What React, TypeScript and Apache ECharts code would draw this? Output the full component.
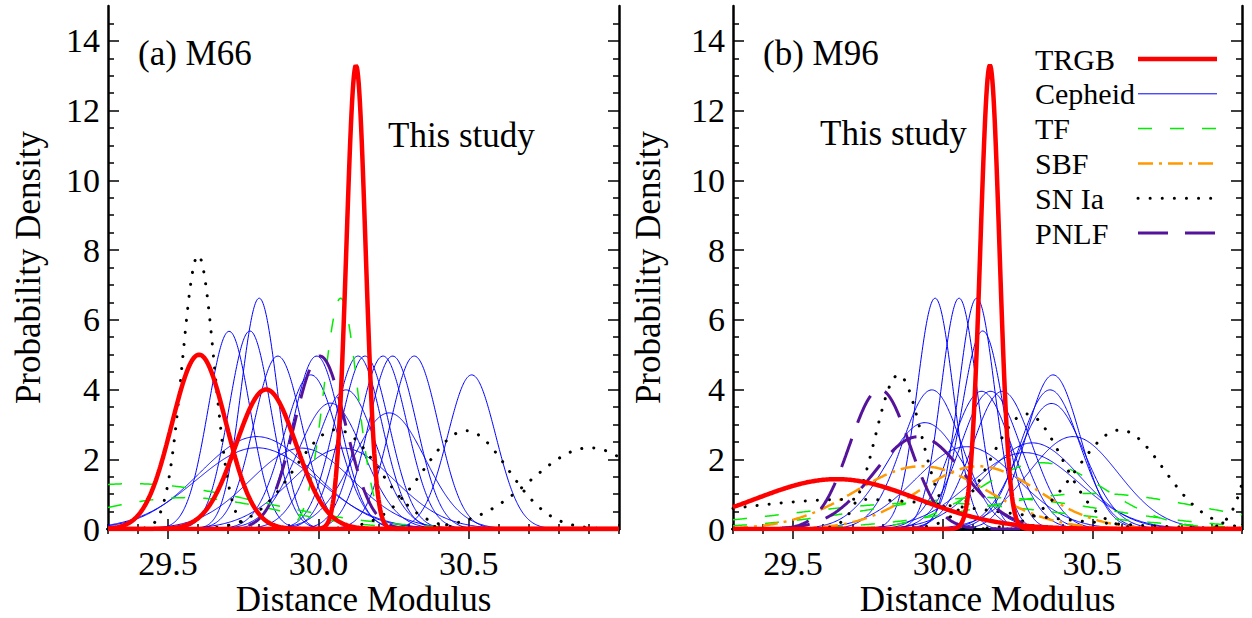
import React, { useEffect, useRef } from "react";
import * as echarts from "echarts";

// ---------- data ----------
// Each distribution: mean distance modulus, sigma, peak probability density.
const X_TICK_LABELS = [29.5, 30.0, 30.5];
const Y_TICK_LABELS = [0, 2, 4, 6, 8, 10, 12, 14];

// Panel (a) M66
const M66_TRGB_MU = [29.603, 29.826, 30.125];
const M66_TRGB_SIGMA = [0.09, 0.1, 0.032];
const M66_TRGB_PEAK = [5.0, 4.0, 13.3];

const M66_CEP_MU = [29.703, 29.772, 29.803, 29.865, 29.994, 29.975, 30.04, 30.132, 30.155, 30.215, 30.247, 30.319, 30.51, 30.092, 30.235, 30.082, 29.795, 29.795, 29.944];
const M66_CEP_SIGMA = [0.07, 0.07, 0.06, 0.08, 0.08, 0.09, 0.11, 0.08, 0.08, 0.08, 0.08, 0.08, 0.08, 0.1, 0.12, 0.17, 0.19, 0.2, 0.17];
const M66_CEP_PEAK = [5.67, 5.68, 6.62, 4.96, 4.96, 4.42, 3.61, 4.96, 4.96, 4.96, 4.96, 4.96, 4.42, 3.99, 3.33, 2.32, 2.65, 2.33, 2.32];

const M66_TF_MU = [29.38, 29.56, 30.074];
const M66_TF_SIGMA = [0.42, 0.3, 0.056];
const M66_TF_PEAK = [1.3, 0.9, 6.62];

const M66_SN_MU = [29.6, 30.06, 30.491, 30.903];
const M66_SN_SIGMA = [0.053, 0.14, 0.14, 0.195];
const M66_SN_PEAK = [7.85, 2.85, 2.82, 2.33];

const M66_PN_MU = [30.005];
const M66_PN_SIGMA = [0.085];
const M66_PN_PEAK = [4.96];

// Panel (b) M96
const M96_TRGB_MU = [29.646, 30.158];
const M96_TRGB_SIGMA = [0.27, 0.032];
const M96_TRGB_PEAK = [1.43, 13.3];

const M96_CEP_MU = [29.975, 30.055, 30.114, 30.134, 29.964, 29.941, 30.13, 30.16, 30.2, 30.369, 30.359, 30.364, 30.436, 30.3, 30.08, 30.275];
const M96_CEP_SIGMA = [0.06, 0.06, 0.06, 0.07, 0.1, 0.13, 0.1, 0.1, 0.1, 0.09, 0.1, 0.11, 0.15, 0.16, 0.17, 0.18];
const M96_CEP_PEAK = [6.62, 6.62, 6.62, 5.68, 3.99, 3.05, 3.95, 3.95, 3.95, 4.42, 3.99, 3.6, 2.65, 2.47, 2.36, 2.19];

const M96_TF_MU = [30.33, 30.5, 30.15, 29.95];
const M96_TF_SIGMA = [0.21, 0.37, 0.4, 0.45];
const M96_TF_PEAK = [1.9, 1.02, 0.9, 0.75];

const M96_SBF_MU = [29.93, 30.12];
const M96_SBF_SIGMA = [0.22, 0.2];
const M96_SBF_PEAK = [1.8, 1.8];

const M96_SN_MU = [29.7, 29.853, 30.28, 30.593, 31.12];
const M96_SN_SIGMA = [0.47, 0.077, 0.12, 0.145, 0.07];
const M96_SN_PEAK = [0.85, 4.42, 3.3, 2.84, 5.7];

const M96_PN_MU = [29.79, 29.92];
const M96_PN_SIGMA = [0.1, 0.15];
const M96_PN_PEAK = [4.0, 2.65];

// ---------- styles ----------
const FONT = "'Liberation Serif', 'Times New Roman', Times, serif";
const STYLES: Record<string, any> = {
  TRGB: { color: "#ff0000", width: 4.5, type: "solid" },
  Cepheid: { color: "#0000ff", width: 1, type: "solid" },
  TF: { color: "#00ee00", width: 1.5, type: [14, 18] },
  SBF: { color: "#ff9900", width: 2.5, type: [15, 6, 3, 6] },
  "SN Ia": { color: "#000000", width: 3, type: [0.1, 12], cap: "round" },
  PNLF: { color: "#55129a", width: 3, type: [30, 17] },
};
const LEGEND_ORDER = ["TRGB", "Cepheid", "TF", "SBF", "SN Ia", "PNLF"];

const XMIN = 29.3;
const XMAX = 31.0;
const YMIN = 0;
const YMAX = 15;

const XS: number[] = [];
for (let i = 0; i <= 850; i++) XS.push(XMIN + (i * (XMAX - XMIN)) / 850);

function gaussSeries(name: string, mus: number[], sigmas: number[], peaks: number[], axisIdx: number) {
  const st = STYLES[name];
  return mus.map((mu, k) => ({
    type: "line",
    name,
    xAxisIndex: axisIdx,
    yAxisIndex: axisIdx,
    showSymbol: false,
    symbol: "none",
    silent: true,
    clip: true,
    lineStyle: { color: st.color, width: st.width, type: st.type, cap: st.cap || "butt" },
    data: XS.map((x) => [x, peaks[k] * Math.exp(-((x - mu) * (x - mu)) / (2 * sigmas[k] * sigmas[k]))]),
  }));
}

function range(a: number, b: number, step: number) {
  const out: number[] = [];
  for (let v = a; v <= b + 1e-9; v += step) out.push(Math.round(v * 100) / 100);
  return out;
}

const X_MINOR = range(29.3, 31.0, 0.1).filter((v) => !X_TICK_LABELS.some((m) => Math.abs(m - v) < 1e-6));
const Y_MAJOR = range(0, 14, 2);
const Y_MINOR = range(0.5, 14.5, 0.5).filter((v) => Math.abs(v % 2) > 1e-6);

const AXIS_COLOR = "#000";
const AXIS_W = 2.5;
const TICK_FONT = 34;
const TITLE_FONT = 35;

function xAxes(grid: number) {
  const base = { type: "value", gridIndex: grid, min: XMIN, max: XMAX, splitLine: { show: false } };
  return [
    {
      ...base,
      position: "bottom",
      axisLine: { show: true, lineStyle: { color: AXIS_COLOR, width: AXIS_W } },
      axisTick: { show: true, inside: true, length: 10, customValues: X_TICK_LABELS, lineStyle: { color: AXIS_COLOR, width: 1.5 } },
      axisLabel: {
        show: true,
        customValues: X_TICK_LABELS,
        formatter: (v: number) => v.toFixed(1),
        fontFamily: FONT,
        fontSize: TICK_FONT,
        lineHeight: 32,
        color: "#000",
        margin: 18,
      },
    },
    {
      ...base,
      position: "bottom",
      axisLine: { show: false },
      axisTick: { show: true, inside: true, length: 5, customValues: X_MINOR, lineStyle: { color: AXIS_COLOR, width: 1.5 } },
      axisLabel: { show: false },
    },
    {
      ...base,
      position: "top",
      axisLine: { show: true, lineStyle: { color: AXIS_COLOR, width: AXIS_W } },
      axisTick: { show: true, inside: true, length: 10, customValues: X_TICK_LABELS, lineStyle: { color: AXIS_COLOR, width: 1.5 } },
      axisLabel: { show: false },
    },
    {
      ...base,
      position: "top",
      axisLine: { show: false },
      axisTick: { show: true, inside: true, length: 5, customValues: X_MINOR, lineStyle: { color: AXIS_COLOR, width: 1.5 } },
      axisLabel: { show: false },
    },
  ];
}

function yAxes(grid: number) {
  const base = { type: "value", gridIndex: grid, min: YMIN, max: YMAX, splitLine: { show: false } };
  return [
    {
      ...base,
      position: "left",
      axisLine: { show: true, lineStyle: { color: AXIS_COLOR, width: AXIS_W } },
      axisTick: { show: true, inside: true, length: 11, customValues: Y_MAJOR, lineStyle: { color: AXIS_COLOR, width: 1.5 } },
      axisLabel: {
        show: true,
        customValues: Y_TICK_LABELS,
        formatter: (v: number) => String(Math.round(v)),
        fontFamily: FONT,
        fontSize: TICK_FONT,
        color: "#000",
        margin: 8,
      },
    },
    {
      ...base,
      position: "left",
      axisLine: { show: false },
      axisTick: { show: true, inside: true, length: 6, customValues: Y_MINOR, lineStyle: { color: AXIS_COLOR, width: 1.5 } },
      axisLabel: { show: false },
    },
    {
      ...base,
      position: "right",
      axisLine: { show: true, lineStyle: { color: AXIS_COLOR, width: AXIS_W } },
      axisTick: { show: true, inside: true, length: 11, customValues: Y_MAJOR, lineStyle: { color: AXIS_COLOR, width: 1.5 } },
      axisLabel: { show: false },
    },
    {
      ...base,
      position: "right",
      axisLine: { show: false },
      axisTick: { show: true, inside: true, length: 6, customValues: Y_MINOR, lineStyle: { color: AXIS_COLOR, width: 1.5 } },
      axisLabel: { show: false },
    },
  ];
}

const GRIDS = [
  { left: 108, top: 6, width: 511, height: 523 },
  { left: 733, top: 6, width: 509, height: 523 },
];

function text(t: string, x: number, y: number, extra: any = {}) {
  return {
    type: "text",
    x,
    y,
    silent: true,
    ...extra,
    style: {
      text: t,
      fontFamily: FONT,
      fontSize: TITLE_FONT,
      fill: "#000",
      textVerticalAlign: "middle",
      ...(extra.style || {}),
    },
  };
}

function buildOption() {
  const series: any[] = [];
  // panel a (axes index 0)
  series.push(...gaussSeries("Cepheid", M66_CEP_MU, M66_CEP_SIGMA, M66_CEP_PEAK, 0));
  series.push(...gaussSeries("TF", M66_TF_MU, M66_TF_SIGMA, M66_TF_PEAK, 0));
  series.push(...gaussSeries("SN Ia", M66_SN_MU, M66_SN_SIGMA, M66_SN_PEAK, 0));
  series.push(...gaussSeries("PNLF", M66_PN_MU, M66_PN_SIGMA, M66_PN_PEAK, 0));
  series.push(...gaussSeries("TRGB", M66_TRGB_MU, M66_TRGB_SIGMA, M66_TRGB_PEAK, 0));
  // panel b (axes index 4)
  series.push(...gaussSeries("Cepheid", M96_CEP_MU, M96_CEP_SIGMA, M96_CEP_PEAK, 4));
  series.push(...gaussSeries("TF", M96_TF_MU, M96_TF_SIGMA, M96_TF_PEAK, 4));
  series.push(...gaussSeries("SBF", M96_SBF_MU, M96_SBF_SIGMA, M96_SBF_PEAK, 4));
  series.push(...gaussSeries("SN Ia", M96_SN_MU, M96_SN_SIGMA, M96_SN_PEAK, 4));
  series.push(...gaussSeries("PNLF", M96_PN_MU, M96_PN_SIGMA, M96_PN_PEAK, 4));
  series.push(...gaussSeries("TRGB", M96_TRGB_MU, M96_TRGB_SIGMA, M96_TRGB_PEAK, 4));

  const legendEls: any[] = [];
  LEGEND_ORDER.forEach((name, i) => {
    const y = 59 + i * 34.8;
    const st = STYLES[name];
    legendEls.push(text(name, 1035, y, { style: { fontSize: 30, lineHeight: 30, textAlign: "left" } }));
    legendEls.push({
      type: "line",
      silent: true,
      shape: { x1: 1138, y1: y, x2: 1217, y2: y },
      style: {
        stroke: st.color,
        lineWidth: st.width,
        lineDash: st.type === "solid" ? null : st.type,
        lineCap: st.cap || "butt",
      },
    });
  });

  const graphics: any[] = [
    text("(a) M66", 138, 53, { style: { textAlign: "left" } }),
    text("(b) M96", 763, 53, { style: { textAlign: "left" } }),
    text("This study", 388, 135, { style: { textAlign: "left" } }),
    text("This study", 820, 133, { style: { textAlign: "left" } }),
    text("Distance Modulus", 363.5, 599, { style: { textAlign: "center", lineHeight: 32 } }),
    text("Distance Modulus", 987.5, 599, { style: { textAlign: "center", lineHeight: 32 } }),
    text("Probability Density", 28, 267.5, { rotation: Math.PI / 2, style: { textAlign: "center" } }),
    text("Probability Density", 648, 267.5, { rotation: Math.PI / 2, style: { textAlign: "center" } }),
    ...legendEls,
  ];

  return {
    animation: false,
    backgroundColor: "#ffffff",
    grid: GRIDS,
    xAxis: [...xAxes(0), ...xAxes(1)],
    yAxis: [...yAxes(0), ...yAxes(1)],
    series,
    graphic: graphics,
  };
}

export default function App() {
  const ref = useRef<HTMLDivElement>(null);
  useEffect(() => {
    if (!ref.current) return;
    const chart = echarts.init(ref.current, null, { renderer: "svg" });
    chart.setOption(buildOption() as any);
    return () => chart.dispose();
  }, []);
  return (
    <div
      ref={ref}
      style={{ position: "fixed", left: 0, top: 0, width: 1252, height: 618, background: "#fff" }}
    />
  );
}
